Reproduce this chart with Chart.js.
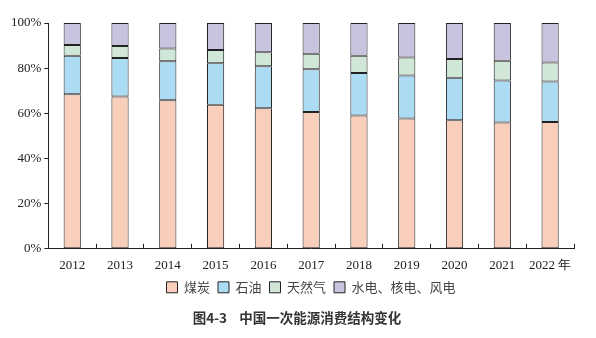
<!DOCTYPE html>
<html>
<head>
<meta charset="utf-8">
<script src="https://cdn.jsdelivr.net/npm/chart.js@4"></script>
<style>
  html, body { margin: 0; padding: 0; background: #fff; }
  #wrap { width: 596px; height: 338px; }
</style>
</head>
<body>
<div id="wrap"><canvas id="myChart" width="596" height="338"></canvas></div>
<script>
const years = ['2012', '2013', '2014', '2015', '2016', '2017', '2018', '2019', '2020', '2021', '2022 年'];
const coal = [68.5, 67.4, 65.8, 63.8, 62.2, 60.6, 59.0, 57.7, 56.9, 55.9, 56.2];
const oil = [17.0, 17.1, 17.3, 18.4, 18.7, 18.9, 18.9, 19.0, 18.8, 18.6, 17.9];
const gas = [4.8, 5.3, 5.6, 5.8, 6.1, 6.9, 7.6, 8.0, 8.4, 8.8, 8.4];
const clean = [9.7, 10.2, 11.3, 12.0, 13.0, 13.6, 14.5, 15.3, 15.9, 16.7, 17.5];
const yTicks = [0, 20, 40, 60, 80, 100];

const serif = 'Liberation Serif, Times New Roman, serif';
const cjk = 'Noto Sans CJK SC, sans-serif';

function series(label, data, color) {
  return {
    label: label,
    data: data,
    backgroundColor: color,
    borderColor: '#222',
    borderWidth: 1,
    borderSkipped: false,
    barPercentage: 0.36,
    categoryPercentage: 1
  };
}

// legend and caption sit a little right of centre in the original
const nudge = {
  id: 'nudge',
  beforeDraw(chart) {
    const l = chart.legend;
    if (l) { l.left += 20; l.right += 20; }
    const t = chart.titleBlock;
    if (t) { t.left += 6; t.right += 6; }
  }
};

const ctx = document.getElementById('myChart').getContext('2d');

new Chart(ctx, {
  type: 'bar',
  data: {
    labels: years,
    datasets: [
      series('煤炭', coal, '#f9cfbc'),
      series('石油', oil, '#abdcf4'),
      series('天然气', gas, '#d0e6d6'),
      series('水电、核电、风电', clean, '#c8c4e0')
    ]
  },
  options: {
    responsive: false,
    animation: false,
    layout: { padding: { left: 8, right: 22, top: 23, bottom: 8 } },
    scales: {
      x: {
        stacked: true,
        offset: true,
        border: { color: '#222', width: 1 },
        grid: {
          offset: true,
          drawOnChartArea: false,
          drawTicks: true,
          tickLength: -5,
          color: '#222'
        },
        afterFit: function(scale) { scale.height = 24; },
        ticks: {
          color: '#222',
          padding: 14,
          maxRotation: 0,
          minRotation: 0,
          autoSkip: false,
          font: { family: serif, size: 13 }
        }
      },
      y: {
        stacked: true,
        min: 0,
        max: 100,
        border: { color: '#222', width: 1 },
        grid: {
          drawOnChartArea: false,
          drawTicks: true,
          tickLength: 4,
          color: '#222'
        },
        afterBuildTicks: function(scale) {
          scale.ticks = yTicks.map(function(v) { return { value: v }; });
        },
        ticks: {
          color: '#222',
          padding: 3,
          font: { family: serif, size: 13 },
          callback: function(v) { return v + '%'; }
        }
      }
    },
    plugins: {
      legend: {
        position: 'bottom',
        labels: {
          boxWidth: 11,
          boxHeight: 11,
          padding: 8,
          color: '#444',
          font: { family: cjk, size: 13 }
        }
      },
      title: {
        display: true,
        position: 'bottom',
        text: '图4-3    中国一次能源消费结构变化',
        color: '#333',
        padding: { top: 6, bottom: 4 },
        font: { family: cjk, size: 13.5, weight: 'bold' }
      },
      tooltip: { enabled: false }
    }
  },
  plugins: [nudge]
});
</script>
</body>
</html>
